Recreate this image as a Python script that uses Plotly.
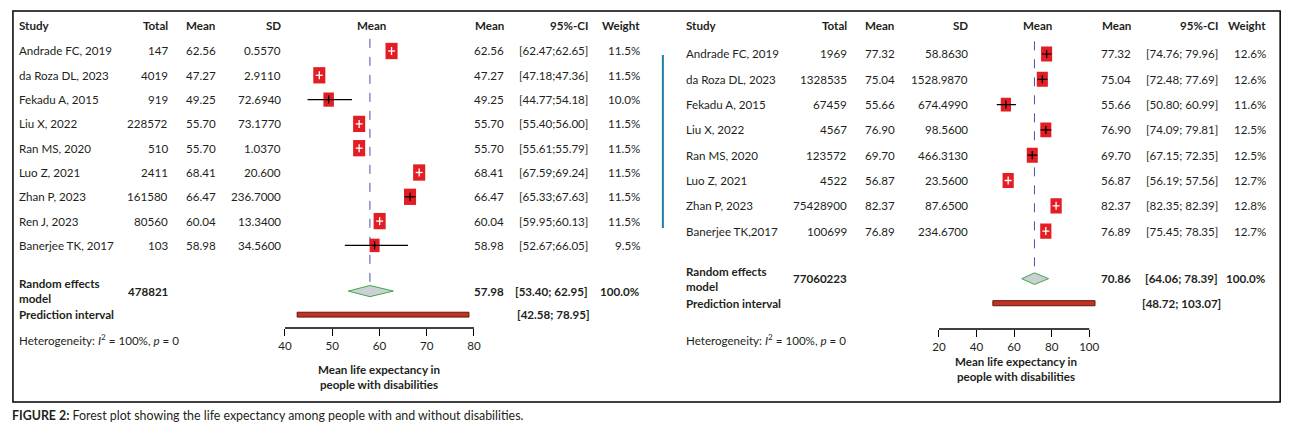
import plotly.graph_objects as go

# Left panel data (with disabilities, study set 1)
left_study = ["Andrade FC, 2019", "da Roza DL, 2023", "Fekadu A, 2015", "Liu X, 2022", "Ran MS, 2020",
              "Luo Z, 2021", "Zhan P, 2023", "Ren J, 2023", "Banerjee TK, 2017"]
left_total = [147, 4019, 919, 228572, 510, 2411, 161580, 80560, 103]
left_mean = [62.56, 47.27, 49.25, 55.70, 55.70, 68.41, 66.47, 60.04, 58.98]
left_sd = ["0.5570", "2.9110", "72.6940", "73.1770", "1.0370", "20.600", "236.7000", "13.3400", "34.5600"]
left_lo = [62.47, 47.18, 44.77, 55.40, 55.61, 67.59, 65.33, 59.95, 52.67]
left_hi = [62.65, 47.36, 54.18, 56.00, 55.79, 69.24, 67.63, 60.13, 66.05]
left_weight = [11.5, 11.5, 10.0, 11.5, 11.5, 11.5, 11.5, 11.5, 9.5]
left_pooled = [57.98, 53.40, 62.95]
left_pooled_total = 478821
left_pred = [42.58, 78.95]
left_ticks = [40, 50, 60, 70, 80]

# Right panel data
right_study = ["Andrade FC, 2019", "da Roza DL, 2023", "Fekadu A, 2015", "Liu X, 2022", "Ran MS, 2020",
               "Luo Z, 2021", "Zhan P, 2023", "Banerjee TK,2017"]
right_total = [1969, 1328535, 67459, 4567, 123572, 4522, 75428900, 100699]
right_mean = [77.32, 75.04, 55.66, 76.90, 69.70, 56.87, 82.37, 76.89]
right_sd = ["58.8630", "1528.9870", "674.4990", "98.5600", "466.3130", "23.5600", "87.6500", "234.6700"]
right_lo = [74.76, 72.48, 50.80, 74.09, 67.15, 56.19, 82.35, 75.45]
right_hi = [79.96, 77.69, 60.99, 79.81, 72.35, 57.56, 82.39, 78.35]
right_weight = [12.6, 12.6, 11.6, 12.5, 12.5, 12.7, 12.8, 12.7]
right_pooled = [70.86, 64.06, 78.39]
right_pooled_total = 77060223
right_pred = [48.72, 103.07]
right_ticks = [20, 40, 60, 80, 100]

W, H = 1302, 428
FONT = "Lato"
TXT = "#231f20"
FS = 11.6


def px(x):
    return x / W


def py(y):
    return 1 - y / H


fig = go.Figure()
shapes = []
annots = []


def note(x, y, text, anchor="left", yref="paper", bold=False, size=FS):
    if bold:
        text = "<b>" + text + "</b>"
    annots.append(dict(x=px(x), y=y, xref="paper", yref=yref, text=text, showarrow=False,
                       xanchor=anchor, yanchor="middle", align=anchor,
                       font=dict(family=FONT, size=size, color=TXT)))


def panel(ax, study, total, mean, sd, lo, hi, weight, pooled, pooled_total, pred, ticks, g):
    xa = "x" if ax == 1 else "x%d" % ax
    ya = "y" if ax == 1 else "y%d" % ax
    n = len(study)
    rows = list(range(n))
    pooled_y = n + 0.88
    pred_y = n + 1.85
    ppu = (g["x_px"][1] - g["x_px"][0]) / (g["xrange"][1] - g["xrange"][0])  # pixels per unit

    # headers
    hy = py(26)
    note(g["study"], hy, "Study", bold=True)
    note(g["total"], hy, "Total", "right", bold=True)
    note(g["mean"], hy, "Mean", bold=True)
    note(g["sd"], hy, "SD", "right", bold=True)
    note(g["plot_c"], hy, "Mean", "center", bold=True)
    note(g["mcol"], hy, "Mean", "right", bold=True)
    note(g["ci"], hy, "95%-CI", "right", bold=True)
    note(g["wt"], hy, "Weight", "right", bold=True)

    for i in rows:
        note(g["study"], i, study[i], yref=ya)
        note(g["total"], i, str(total[i]), "right", yref=ya)
        note(g["mean"], i, "%.2f" % mean[i], yref=ya)
        note(g["sd"], i, sd[i], "right", yref=ya)
        note(g["mcol"], i, "%.2f" % mean[i], "right", yref=ya)
        note(g["ci"], i, g["cifmt"] % (lo[i], hi[i]), "right", yref=ya)
        note(g["wt"], i, "%.1f%%" % weight[i], "right", yref=ya)

        bw = g["box_k"] * weight[i]
        bh = 1.35 * bw
        shapes.append(dict(type="rect", xref=xa, yref=ya, xsizemode="pixel", ysizemode="pixel",
                           xanchor=mean[i], yanchor=i, x0=-bw / 2, x1=bw / 2, y0=-bh / 2, y1=bh / 2,
                           fillcolor="#e31d24", line=dict(width=0), layer="above"))
        half_px = (hi[i] - lo[i]) / 2 * ppu
        if half_px < 4.5:
            col = "white"
            shapes.append(dict(type="line", xref=xa, yref=ya, xsizemode="pixel", xanchor=mean[i],
                               x0=-3.5, x1=3.5, y0=i, y1=i, line=dict(color=col, width=1.3), layer="above"))
        else:
            col = "black"
            shapes.append(dict(type="line", xref=xa, yref=ya, x0=lo[i], x1=hi[i], y0=i, y1=i,
                               line=dict(color=col, width=1.2), layer="above"))
        shapes.append(dict(type="line", xref=xa, yref=ya, ysizemode="pixel", yanchor=i,
                           x0=mean[i], x1=mean[i], y0=-4, y1=4, line=dict(color=col, width=1.3), layer="above"))

    # pooled row
    note(g["study"], pooled_y, "Random effects<br>model", yref=ya, bold=True)
    note(g["total"], pooled_y, str(pooled_total), "right", yref=ya, bold=True)
    note(g["mcol"], pooled_y, "%.2f" % pooled[0], "right", yref=ya, bold=True)
    note(g["ci"], pooled_y, "[%.2f; %.2f]" % (pooled[1], pooled[2]), "right", yref=ya, bold=True)
    note(g["wt"], pooled_y, "100.0%", "right", yref=ya, bold=True)
    note(g["study"], pred_y, "Prediction interval", yref=ya, bold=True)
    note(g["pred_ci"], pred_y, "[%.2f; %.2f]" % (pred[0], pred[1]), "right", yref=ya, bold=True)
    note(g["study"], py(339), "Heterogeneity: <i>I</i><sup>2</sup> = 100%, <i>p</i> = 0")

    # dashed line at pooled mean
    shapes.append(dict(type="line", xref=xa, yref=ya, x0=pooled[0], x1=pooled[0], y0=-0.5, y1=pooled_y - 0.2,
                       line=dict(color="#4f4fa3", width=1, dash="dash"), layer="below"))
    # diamond
    d = 0.23
    fig.add_trace(go.Scatter(x=[pooled[1], pooled[0], pooled[2], pooled[0], pooled[1]],
                             y=[pooled_y, pooled_y - d, pooled_y, pooled_y + d, pooled_y],
                             xaxis=xa, yaxis=ya, mode="lines", fill="toself", fillcolor="#ccd0d5",
                             line=dict(color="#3daa4b", width=1), hoverinfo="skip", showlegend=False))
    # prediction bar
    shapes.append(dict(type="rect", xref=xa, yref=ya, x0=pred[0], x1=pred[1], y0=pred_y - 0.1, y1=pred_y + 0.1,
                       fillcolor="#c6321f", line=dict(color="#5c1a10", width=1)))
    # axis line
    shapes.append(dict(type="line", xref=xa, yref=ya + " domain", x0=ticks[0], x1=ticks[-1], y0=0, y1=0,
                       line=dict(color="black", width=1.3)))
    note(g["title_c"], py(g["title_y"]), "Mean life expectancy in<br>people with disabilities",
         "center", bold=True)


left_g = dict(study=10, total=165, mean=179, sd=279, plot_c=368, mcol=504, ci=589, wt=642, pred_ci=591,
              cifmt="[%.2f;%.2f]", box_k=1.05, x_px=(281, 472), xrange=(40, 80), title_c=376, title_y=377)
right_g = dict(study=684, total=851, mean=865, sd=973, plot_c=1042, mcol=1138, ci=1226, wt=1275, pred_ci=1229,
               cifmt="[%.2f; %.2f]", box_k=0.88, x_px=(942, 1101.6), xrange=(20, 104), title_c=1020, title_y=369)

panel(1, left_study, left_total, left_mean, left_sd, left_lo, left_hi, left_weight,
      left_pooled, left_pooled_total, left_pred, left_ticks, left_g)
panel(2, right_study, right_total, right_mean, right_sd, right_lo, right_hi, right_weight,
      right_pooled, right_pooled_total, right_pred, right_ticks, right_g)

# frame, stray blue rule and caption
shapes.append(dict(type="rect", xref="paper", yref="paper", x0=px(6), x1=px(1287), y0=py(402), y1=py(11),
                   line=dict(color="black", width=1.5)))
shapes.append(dict(type="line", xref="paper", yref="paper", x0=px(663), x1=px(663), y0=py(55), y1=py(228),
                   line=dict(color="#1b7fa6", width=2)))
annots.append(dict(x=px(3), y=py(415), xref="paper", yref="paper", showarrow=False, xanchor="left",
                   yanchor="middle",
                   text="<b>FIGURE 2:</b> Forest plot showing the life expectancy among people with and without disabilities.",
                   font=dict(family=FONT, size=12.4, color=TXT)))

axis_common = dict(showgrid=False, zeroline=False, showline=False, ticks="outside", ticklen=7,
                   tickwidth=1.3, tickcolor="black", tickfont=dict(family=FONT, size=FS, color=TXT))
yaxis_common = dict(showgrid=False, zeroline=False, showticklabels=False, showline=False, ticks="")

fig.update_layout(
    width=W, height=H, margin=dict(l=0, r=0, t=0, b=0),
    paper_bgcolor="white", plot_bgcolor="white", showlegend=False,
    xaxis=dict(domain=[px(281), px(472)], range=[40, 80], tickvals=left_ticks, anchor="y", **axis_common),
    yaxis=dict(domain=[py(328), py(38)], range=[(328 - 51) / 24.3, (38 - 51) / 24.3], anchor="x", **yaxis_common),
    xaxis2=dict(domain=[px(942), px(1101.6)], range=[20, 104], tickvals=right_ticks, anchor="y2", **axis_common),
    yaxis2=dict(domain=[py(329), py(38)], range=[(329 - 54) / 25.3, (38 - 54) / 25.3], anchor="x2", **yaxis_common),
    shapes=shapes, annotations=annots,
)

# the page body has a default 8px margin; drop it so the figure sits at the window origin
fig.write_html("out.html", config={"displayModeBar": False},
               post_script="document.body.style.margin='0';")
